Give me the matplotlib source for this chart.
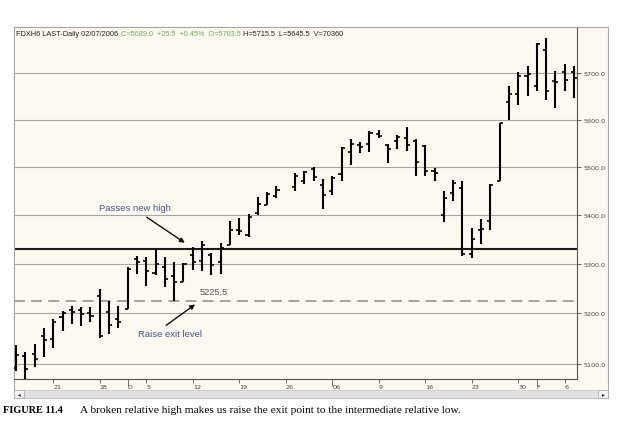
import matplotlib
matplotlib.use('Agg')
import matplotlib.pyplot as plt
from matplotlib.patches import Rectangle
from matplotlib.ticker import FixedLocator, FixedFormatter, NullLocator
import numpy as np

# FDAX Mar-06 daily bars, 15 Nov 2005 - 07 Feb 2006 (trading-day index, 26 Dec closed)
day = list(range(0, 29)) + list(range(30, 61))
opens = [5093, 5116, 5120, 5156, 5150, 5192, 5207, 5207, 5201, 5235,
         5203, 5189, 5209, 5310, 5306, 5280, 5294, 5275, 5263, 5317,
         5306, 5317, 5304, 5337, 5368, 5358, 5404, 5420, 5438,
         5458, 5471, 5495, 5462, 5450, 5485, 5531, 5545, 5547, 5570,
         5545, 5555, 5560, 5555, 5543, 5491, 5399, 5444, 5456, 5320,
         5368, 5387, 5471, 5637, 5656, 5694, 5672, 5751, 5683, 5703, 5703.5]
highs = [5138, 5124, 5140, 5171, 5189, 5205, 5215, 5213, 5213, 5249,
         5225, 5215, 5292, 5316, 5313, 5328, 5313, 5304, 5302, 5334,
         5346, 5321, 5342, 5387, 5393, 5401, 5436, 5448, 5459,
         5487, 5491, 5499, 5475, 5481, 5541, 5558, 5553, 5576, 5578,
         5549, 5568, 5584, 5559, 5545, 5497, 5450, 5473, 5469, 5372,
         5391, 5463, 5593, 5672, 5703, 5716, 5766, 5777, 5705, 5720, 5715.5]
lows = [5087, 5071, 5094, 5114, 5132, 5165, 5178, 5174, 5182, 5152,
        5159, 5171, 5209, 5278, 5255, 5276, 5253, 5225, 5263, 5286,
        5284, 5276, 5278, 5337, 5358, 5354, 5399, 5420, 5434,
        5450, 5463, 5469, 5412, 5440, 5469, 5504, 5529, 5531, 5560,
        5508, 5537, 5533, 5481, 5481, 5471, 5385, 5428, 5316, 5312,
        5339, 5368, 5469, 5599, 5632, 5650, 5661, 5643, 5626, 5661, 5645.5]
closes = [5118, 5091, 5110, 5148, 5183, 5200, 5203, 5199, 5194, 5156,
          5176, 5183, 5288, 5304, 5284, 5300, 5268, 5262, 5300, 5304,
          5337, 5298, 5331, 5368, 5366, 5395, 5423, 5442, 5452,
          5481, 5489, 5479, 5440, 5477, 5539, 5549, 5541, 5572, 5566,
          5537, 5562, 5545, 5510, 5491, 5487, 5434, 5465, 5320, 5350,
          5370, 5461, 5593, 5656, 5694, 5698, 5764, 5661, 5681, 5685, 5689.0]

xtick_pos = [4, 9, 12, 14, 19, 24, 29, 34, 39, 44, 49, 54, 56, 59]
xtick_lbl = ['21', '28', 'D', '5', '12', '19', '26', '06', '9', '16', '23', '30', 'F', '6']
ygrid = [5100, 5200, 5300, 5400, 5500, 5600, 5700]

new_high = 5329
exit_level = 5225.5

W, H = 625, 427
cream = '#fdf9f0'


def fx(px):
    return px / W


def fy(py):
    return 1 - py / H


fig = plt.figure(figsize=(6.25, 4.27), dpi=100)
fig.patch.set_facecolor('white')

# chart panel + scrollbar
fig.add_artist(Rectangle((fx(14), fy(399)), fx(608) - fx(14), fy(28) - fy(399),
                         transform=fig.transFigure, facecolor=cream,
                         edgecolor='#a8a8a8', lw=0.8, zorder=0))
fig.add_artist(Rectangle((fx(14), fy(399)), fx(608) - fx(14), fy(391) - fy(399),
                         transform=fig.transFigure, facecolor='#e2e2e2',
                         edgecolor='#c0c0c0', lw=0.5, zorder=1))
for bx in (14, 598):
    fig.add_artist(Rectangle((fx(bx), fy(399)), fx(10), fy(391) - fy(399),
                             transform=fig.transFigure, facecolor='#f4f4f4',
                             edgecolor='#a0a0a0', lw=0.5, zorder=2))
fig.text(fx(19), fy(395), '\u25c2', fontsize=4, ha='center', va='center', color='#222')
fig.text(fx(603), fy(395), '\u25b8', fontsize=4, ha='center', va='center', color='#222')

ax = fig.add_axes([fx(14), fy(380), fx(577) - fx(14), fy(28) - fy(380)])
ax.set_facecolor(cream)
ax.set_yscale('log')
ax.set_xlim(-0.22, 60.32)
ax.set_ylim(5071, 5802)

for g in ygrid:
    ax.axhline(g, color='#a5a5a5', lw=0.8, zorder=1)

ax.axhline(new_high, color='#1a1a1a', lw=1.5, zorder=2)
ax.axhline(exit_level, color='#9a9a9a', lw=1.3, ls=(0, (6, 3.5)), zorder=2)

d = np.array(day)
ax.vlines(d, lows, highs, color='black', lw=1.5, zorder=3)
ax.hlines(opens, d - 0.33, d, color='black', lw=1.2, zorder=3)
ax.hlines(closes, d, d + 0.33, color='black', lw=1.2, zorder=3)

ax.yaxis.set_major_locator(FixedLocator(ygrid))
ax.yaxis.set_major_formatter(FixedFormatter([f'{v:.1f}' for v in ygrid]))
ax.yaxis.set_minor_locator(NullLocator())
ax.yaxis.tick_right()
ax.tick_params(axis='y', length=3, width=0.6, color='#444', labelsize=4.6,
               labelcolor='#444', pad=1.5)
ax.set_xticks(xtick_pos)
ax.set_xticklabels(xtick_lbl)
ax.tick_params(axis='x', length=3, width=0.6, color='#555', labelsize=4.6,
               labelcolor='#444', pad=0.5)
for lab in ax.get_xticklabels():
    lab.set_ha('left')
for t, lbl in zip(ax.xaxis.get_major_ticks(), xtick_lbl):
    if lbl in ('D', '06', 'F'):
        t.tick1line.set_markersize(5)

for s in ('left', 'top'):
    ax.spines[s].set_color('#a8a8a8')
    ax.spines[s].set_linewidth(0.8)
for s in ('right', 'bottom'):
    ax.spines[s].set_color('#555555')
    ax.spines[s].set_linewidth(0.8)

# annotations
ax.text(8.9, 5414, 'Passes new high', fontsize=6.8, color='#45558f',
        va='center', ha='left', family='Liberation Sans')
ax.annotate('', xy=(18.4, 5339), xytext=(13.8, 5398),
            arrowprops=dict(arrowstyle='-|>', color='#111', lw=1.0,
                            mutation_scale=7))
ax.text(19.7, 5243, '5225,5', fontsize=6.7, color='#555566',
        va='center', ha='left', family='Liberation Sans')
ax.text(13.1, 5161, 'Raise exit level', fontsize=6.8, color='#45558f',
        va='center', ha='left', family='Liberation Sans')
ax.annotate('', xy=(19.5, 5221), xytext=(15.9, 5173),
            arrowprops=dict(arrowstyle='-|>', color='#111', lw=1.0,
                            mutation_scale=7))

# header line
hdr = dict(fontsize=5.3, va='center', ha='left', family='Liberation Sans')
fig.text(fx(16), fy(35), 'FDXH6 LAST-Daily 02/07/2006', color='#222', **hdr)
fig.text(fx(121), fy(35), 'C=5689.0  +25.5  +0.45%  O=5703.5', color='#6aac5c', **hdr)
fig.text(fx(243), fy(35), 'H=5715.5  L=5645.5  V=70360', color='#222', **hdr)

# caption
fig.text(fx(3), fy(411), 'FIGURE 11.4', fontsize=7.4, weight='bold',
         family='Liberation Serif', va='center', ha='left')
fig.text(fx(80), fy(411),
         'A broken relative high makes us raise the exit point to the intermediate relative low.',
         fontsize=8.2, family='Liberation Serif', va='center', ha='left')

fig.savefig('out.png', dpi=100, facecolor='white')
